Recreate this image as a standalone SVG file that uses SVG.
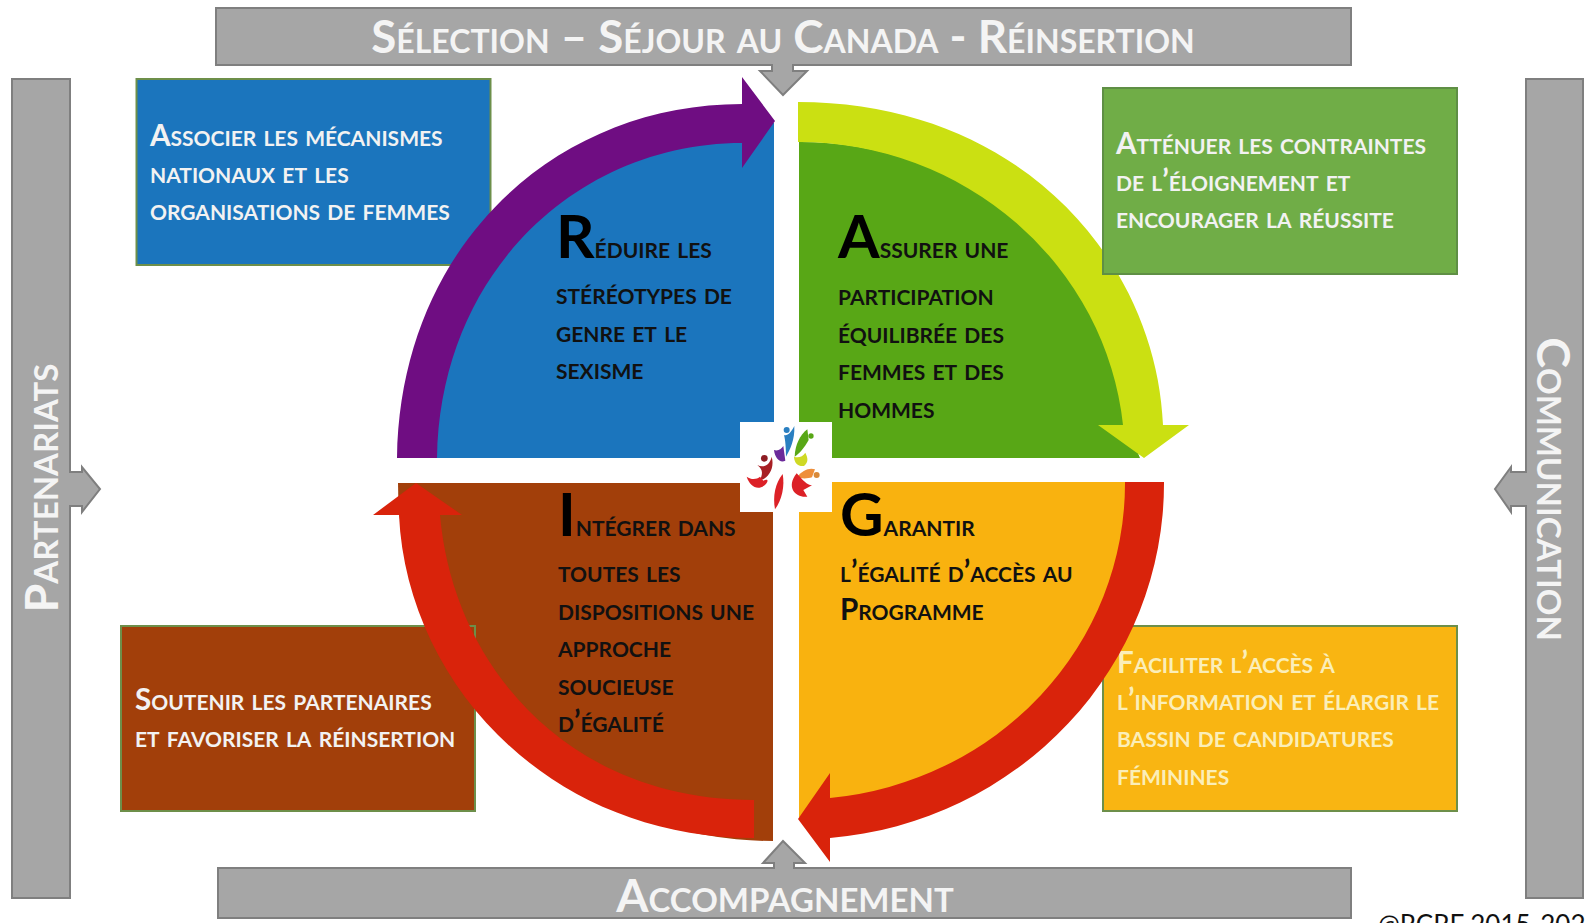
<svg xmlns="http://www.w3.org/2000/svg" width="1585" height="923" viewBox="0 0 1585 923">
<style>
text{font-family:"Lato","Liberation Sans",sans-serif;font-weight:700;font-variant-caps:small-caps}
.l{font-size:29.600px;fill:#f2f2f2}
.y{fill:#fbeeb8}
.q{font-size:29.600px;fill:#111}
.b{font-size:60px;fill:#000}
.h{font-size:46.500px;fill:#f4f4f4}
.t{font-size:45.700px}
.g{fill:#a6a6a6;stroke:#7f7f7f;stroke-width:2}
.bx{stroke-width:2;stroke:#6d8f4a}
</style>
<rect width="1585" height="923" fill="#fff"/>
<g id="quad-reduire">
<path d="M774,458H420A354,336 0 0 1 774,123Z" fill="#1b75bd"/>
<text x="556" y="258" class="q"><tspan class="b">R</tspan>éduire les</text>
<text x="556" y="304" class="q">stéréotypes de</text>
<text x="556" y="342" class="q">genre et le</text>
<text x="556" y="379" class="q">sexisme</text>
</g>
<g id="quad-assurer">
<path d="M799,142A327,316 0 0 1 1126,425L1140,458H799Z" fill="#58a716"/>
<text x="838" y="258" class="q"><tspan class="b">A</tspan>ssurer une</text>
<text x="838" y="305" class="q">participation</text>
<text x="838" y="343" class="q">équilibrée des</text>
<text x="838" y="380" class="q">femmes et des</text>
<text x="838" y="418" class="q">hommes</text>
</g>
<g id="quad-garantir">
<path d="M799,482H1130V600A340,335 0 0 1 799,817Z" fill="#f9b20f"/>
<text x="840" y="536" class="q"><tspan class="b">G</tspan>arantir</text>
<text x="840" y="582" class="q">l’égalité d’accès au</text>
<text x="840" y="620" class="q">Programme</text>
</g>
<g id="quad-integrer">
<path d="M773,483H398A375,358 0 0 0 773,841Z" fill="#a23f0a"/>
</g>
<g id="box-associer">
<rect x="136.500" y="79" width="354" height="186" fill="#1b75bd" class="bx"/>
<text x="150" y="146" class="l">Associer les mécanismes</text>
<text x="150" y="183" class="l">nationaux et les</text>
<text x="150" y="220" class="l">organisations de femmes</text>
</g>
<g id="box-faciliter">
<rect x="1103" y="626" width="354" height="185" fill="#f9b512" class="bx"/>
<text x="1117" y="673" class="l y">Faciliter l’accès à</text>
<text x="1117" y="710" class="l y">l’information et élargir le</text>
<text x="1117" y="747" class="l y">bassin de candidatures</text>
<text x="1117" y="785" class="l y">féminines</text>
</g>
<g id="box-soutenir">
<rect x="121" y="626" width="354" height="185" fill="#a23f0a" class="bx"/>
<text x="135" y="710" class="l">Soutenir les partenaires</text>
<text x="135" y="747" class="l">et favoriser la réinsertion</text>
</g>
<g id="banner-top">
<path d="M216,8H1351V65H793V71H807L783,95L760,71H772V65H216Z" class="g"/>
<text x="783" y="53" text-anchor="middle" class="h t">Sélection – Séjour au Canada - Réinsertion</text>
</g>
<g id="banner-bottom">
<path d="M218,868H774V863H763L783,841L805,863H794V868H1351V918H218Z" class="g"/>
<text x="785" y="912" text-anchor="middle" class="h">Accompagnement</text>
</g>
<g id="banner-left">
<path d="M12,79H70V472H82V467L100,489L82,512V506H70V898H12Z" class="g"/>
<text transform="translate(58 488) rotate(-90)" text-anchor="middle" class="h">Partenariats</text>
</g>
<g id="banner-right">
<path d="M1526,79H1583V898H1526V506H1511V512L1495,489L1511,467V472H1526Z" class="g"/>
<text transform="translate(1537 489) rotate(90)" text-anchor="middle" class="h">Communication</text>
</g>
<g id="connectors">
<path d="M397,458C400,245 556,104 742,104V77L775,121L742,168V143C580,143 440,270 437,458Z" fill="#6f0d82"/>
<path d="M798,102C1020,102 1156,261 1163,425H1189L1144,458L1098,425H1123A327,316 0 0 0 798,142Z" fill="#cbe012"/>
<path d="M1125,482H1164A366,356 0 0 1 830,838V862L798,819L830,773V798A327,316 0 0 0 1125,482Z" fill="#d9230b"/>
<path d="M399,515H373L416,483L462,515H440C453,666 568,800 754,800V838C550,838 407,684 399,515Z" fill="#d9230b"/>
</g>
<g id="quad-integrer-text">
<text x="558" y="536" class="q"><tspan class="b">I</tspan>ntégrer dans</text>
<text x="558" y="582" class="q">toutes les</text>
<text x="558" y="620" class="q">dispositions une</text>
<text x="558" y="657" class="q">approche</text>
<text x="558" y="695" class="q">soucieuse</text>
<text x="558" y="732" class="q">d’égalité</text>
</g>
<g id="box-attenuer">
<rect x="1103" y="88" width="354" height="186" fill="#70ad47" stroke="#5f8f45" stroke-width="2"/>
<text x="1116" y="154" class="l">Atténuer les contraintes</text>
<text x="1116" y="191" class="l">de l’éloignement et</text>
<text x="1116" y="228" class="l">encourager la réussite</text>
</g>
<g id="logo">
<rect x="740" y="422" width="92" height="90" fill="#fff"/>
<g transform="translate(700 390) scale(.3333)">
<circle cx="260" cy="120" r="9" fill="#2a7fc1"/>
<path d="M283,108C285,150 270,180 258,200C258,175 256,150 252,135C262,140 275,125 283,108Z" fill="#2a7fc1"/>
<path d="M222,180C235,185 245,175 250,168L256,212C240,220 225,205 222,180Z" fill="#6c2a9a"/>
<circle cx="333" cy="138" r="8" fill="#58a716"/>
<path d="M322,118L326,150C315,170 300,190 284,200C285,165 300,135 322,118Z" fill="#58a716"/>
<path d="M282,200C295,205 308,200 316,188C324,205 326,215 312,228C295,230 283,220 282,200Z" fill="#cfd925"/>
<circle cx="193" cy="205" r="10" fill="#8d1c24"/>
<path d="M215,200C225,235 205,265 180,272C188,250 190,240 172,225C190,235 210,225 215,200Z" fill="#a81f24"/>
<path d="M140,260C155,270 170,268 180,260L190,272C205,265 205,272 198,282C175,305 150,290 140,260Z" fill="#dc2127"/>
<circle cx="350" cy="255" r="9" fill="#d98a3a"/>
<path d="M292,262C305,240 330,232 345,238L336,262C325,265 310,268 292,262Z" fill="#ee8f3b"/>
<path d="M290,250C310,272 320,285 336,286L310,300L322,320C290,325 255,295 290,250Z" fill="#dc2127"/>
<path d="M248,252C255,290 245,330 225,358C218,320 225,280 248,252Z" fill="#dc2127"/>
</g>
</g>
<text x="1378" y="934" style="font-weight:400;font-variant-caps:normal;font-size:26px;fill:#111">@RCRF 2015-202</text>
</svg>
